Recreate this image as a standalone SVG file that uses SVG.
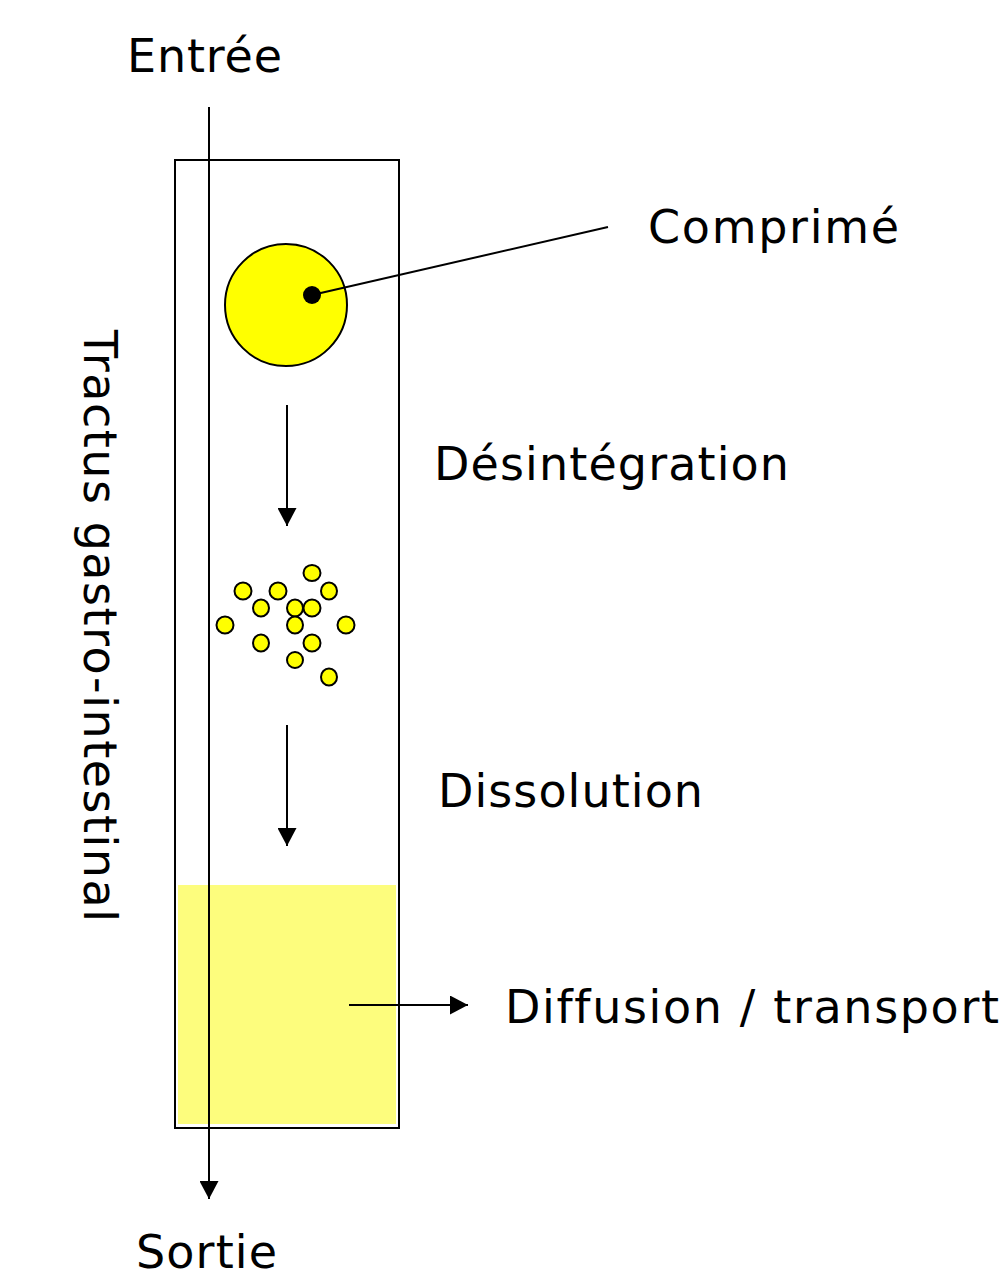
<svg xmlns="http://www.w3.org/2000/svg" width="1000" height="1286" viewBox="0 0 1000 1286">
<style>
text{font-family:"DejaVu Sans","Verdana",sans-serif;font-size:46px;fill:#000;font-variant-ligatures:none}
.ln{stroke:#000;stroke-width:2;fill:none}
.p{fill:#ffff00;stroke:#000;stroke-width:2}
</style>
<defs>
<marker id="ahb" viewBox="0 0 18 19" refX="18" refY="9.5" markerWidth="18" markerHeight="19" markerUnits="userSpaceOnUse" orient="auto">
<path d="M0,0 L18,9.5 L0,19 z" fill="#000"/>
</marker>
</defs>
<g id="tube">
<rect x="175" y="160" width="224" height="968" fill="#fff" stroke="#000" stroke-width="2"/>
<rect x="178" y="885" width="218" height="239" fill="#fdfd7d"/>
</g>
<g id="comprime">
<circle cx="286" cy="305" r="61" class="p"/>
</g>
<g id="particules">
<ellipse cx="312" cy="573" rx="8.5" ry="8" class="p"/>
<ellipse cx="243" cy="591" rx="8.5" ry="8.5" class="p"/>
<ellipse cx="278" cy="591" rx="8.5" ry="8.5" class="p"/>
<ellipse cx="329" cy="591" rx="8" ry="8.5" class="p"/>
<ellipse cx="261" cy="608" rx="8" ry="8.5" class="p"/>
<ellipse cx="295" cy="608" rx="8" ry="8.5" class="p"/>
<ellipse cx="312" cy="608" rx="8.5" ry="8.5" class="p"/>
<ellipse cx="225" cy="625" rx="8.5" ry="8.5" class="p"/>
<ellipse cx="295" cy="625" rx="8" ry="8.5" class="p"/>
<ellipse cx="346" cy="625" rx="8.5" ry="8.5" class="p"/>
<ellipse cx="261" cy="643" rx="8" ry="8.5" class="p"/>
<ellipse cx="312" cy="643" rx="8.5" ry="8.5" class="p"/>
<ellipse cx="295" cy="660" rx="8" ry="8" class="p"/>
<ellipse cx="329" cy="677" rx="8" ry="8.5" class="p"/>
</g>
<g id="connectors">
<line x1="209" y1="107" x2="209" y2="1199" class="ln" marker-end="url(#ahb)"/>
<line x1="287" y1="405" x2="287" y2="526" class="ln" marker-end="url(#ahb)"/>
<line x1="287" y1="725" x2="287" y2="846" class="ln" marker-end="url(#ahb)"/>
<line x1="349" y1="1005" x2="468" y2="1005" class="ln" marker-end="url(#ahb)"/>
<line x1="312" y1="295" x2="608" y2="227" class="ln"/>
<circle cx="312" cy="295" r="9" fill="#000"/>
</g>
<g id="labels">
<text x="127" y="72" textLength="155" lengthAdjust="spacing">Entrée</text>
<text x="136" y="1268" textLength="141" lengthAdjust="spacing">Sortie</text>
<text x="648" y="243" textLength="251" lengthAdjust="spacing">Comprimé</text>
<text x="434" y="480" textLength="355" lengthAdjust="spacing">Désintégration</text>
<text x="438" y="807" textLength="265" lengthAdjust="spacing">Dissolution</text>
<text x="505" y="1023" textLength="494" lengthAdjust="spacing">Diffusion / transport</text>
<text transform="translate(84,330) rotate(90)" textLength="592" lengthAdjust="spacing">Tractus gastro-intestinal</text>
</g>
</svg>
